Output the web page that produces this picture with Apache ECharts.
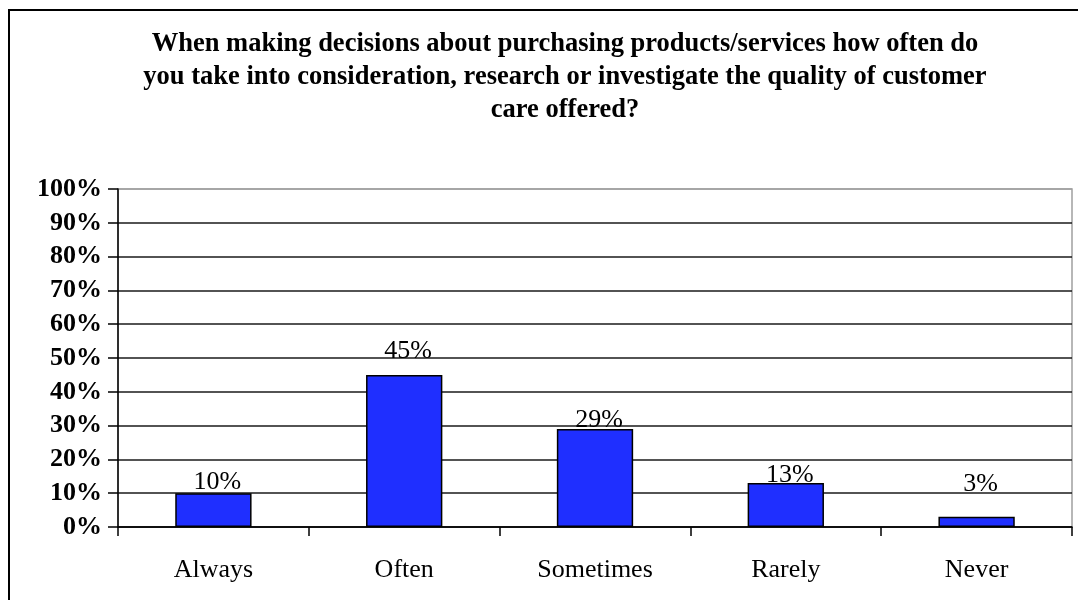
<!DOCTYPE html>
<html>
<head>
<meta charset="utf-8">
<script src="https://cdn.jsdelivr.net/npm/echarts@6/dist/echarts.min.js"></script>
<style>
  html, body { margin: 0; padding: 0; background: #fff; }
  #chart { width: 1078px; height: 600px; }
</style>
</head>
<body>
<div id="chart"></div>
<script>
// Survey answers and share of respondents (%)
const categories = ['Always', 'Often', 'Sometimes', 'Rarely', 'Never'];
const shares = [10, 45, 29, 13, 3];
const yTicks = [0, 10, 20, 30, 40, 50, 60, 70, 80, 90, 100];

// Gap between each bar top and its value label (px)
const labelGap = [-2, 11, -4, -5, 20];

const titleText = 'When making decisions about purchasing products/services how often do\n' +
  'you take into consideration, research or investigate the quality of customer\n' +
  'care offered?';

const serif = '"Liberation Serif", "Times New Roman", serif';

const chart = echarts.init(document.getElementById('chart'));

// gridlines black, top one grey like the plot frame
const splitColors = yTicks.map((v, i) => (i === yTicks.length - 1 ? '#a0a0a0' : '#1a1a1a'));

chart.setOption({
  animation: false,
  backgroundColor: '#fff',
  title: {
    text: titleText,
    left: 560,
    top: 23,
    textAlign: 'center',
    textStyle: {
      fontFamily: serif,
      fontWeight: 'bold',
      fontSize: 26.5,
      lineHeight: 33,
      color: '#000'
    }
  },
  graphic: [{
    type: 'rect',
    shape: { x: 9, y: 10, width: 1200, height: 700 },
    style: { fill: 'none', stroke: '#000', lineWidth: 2 },
    silent: true
  }],
  grid: {
    left: 118,
    right: 6,
    top: 189,
    bottom: 73,
    show: true,
    borderColor: '#a0a0a0',
    borderWidth: 1.5,
    backgroundColor: 'transparent'
  },
  xAxis: {
    type: 'category',
    data: categories,
    axisLine: { lineStyle: { color: '#000', width: 1.5 } },
    axisTick: { show: true, length: 9, lineStyle: { color: '#000', width: 1.5 } },
    axisLabel: {
      margin: 30,
      fontFamily: serif,
      fontSize: 26,
      color: '#000'
    }
  },
  yAxis: {
    type: 'value',
    min: 0,
    max: 100,
    interval: 10,
    axisLine: { show: true, lineStyle: { color: '#000', width: 1.5 } },
    axisTick: { show: true, length: 10, lineStyle: { color: '#000', width: 1.5 } },
    splitLine: { show: true, lineStyle: { color: splitColors, width: 1.5 } },
    axisLabel: {
      margin: 16,
      fontFamily: serif,
      fontWeight: 'bold',
      fontSize: 26,
      color: '#000',
      formatter: v => v + '%'
    }
  },
  series: [{
    type: 'bar',
    barWidth: '40%',
    data: shares.map((v, i) => ({
      value: v,
      label: { distance: labelGap[i] }
    })),
    itemStyle: { color: '#1f2fff', borderColor: '#000', borderWidth: 1.5 },
    label: {
      show: true,
      position: 'top',
      offset: [4, 0],
      fontFamily: serif,
      fontSize: 26,
      color: '#000',
      formatter: p => p.value + '%'
    }
  }]
});
</script>
</body>
</html>
